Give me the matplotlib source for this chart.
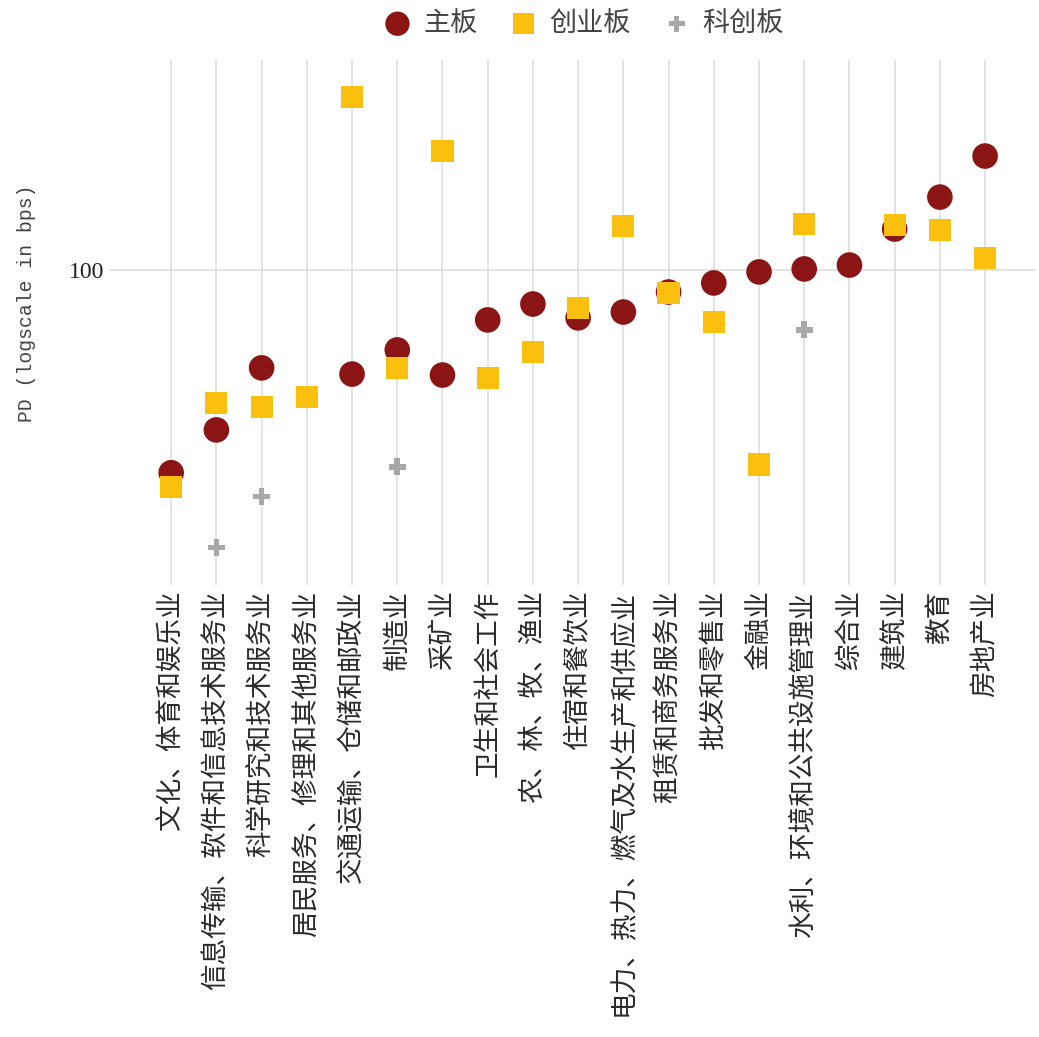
import numpy as np
import matplotlib.pyplot as plt

plt.rcParams['font.family'] = ['Noto Sans CJK SC', 'DejaVu Sans']

# 行业
industries = ['文化、体育和娱乐业', '信息传输、软件和信息技术服务业', '科学研究和技术服务业',
              '居民服务、修理和其他服务业', '交通运输、仓储和邮政业', '制造业', '采矿业',
              '卫生和社会工作', '农、林、牧、渔业', '住宿和餐饮业',
              '电力、热力、燃气及水生产和供应业', '租赁和商务服务业', '批发和零售业', '金融业',
              '水利、环境和公共设施管理业', '综合业', '建筑业', '教育', '房地产业']

# PD (bps), nan = 无数据
zhuban = [31.1, 39.8, 56.9, np.nan, 54.9, 63.1, 54.6, 75.0, 82.2, 75.9,
          78.5, 88.1, 92.8, 98.9, 100.6, 102.9, 126.6, 152.2, 192.8]
chuangye = [28.7, 46.5, 45.4, 48.1, 270.7, 56.9, 198.4, 53.7, 62.4, 80.4,
            128.8, 87.6, 74.1, 32.6, 130.3, np.nan, 129.6, 125.9, 107.2]
kechuang = [np.nan, 20.2, 27.1, np.nan, np.nan, 32.2, np.nan, np.nan, np.nan, np.nan,
            np.nan, np.nan, np.nan, np.nan, 70.8, np.nan, np.nan, np.nan, np.nan]

x = np.arange(len(industries))

fig = plt.figure(figsize=(10.39, 10.37), dpi=100)
ax = fig.add_axes([0.106, 0.436, 0.89, 0.506])

ax.scatter(x, zhuban, s=340, marker='o', color='#8b1414', edgecolors='none', label='主板', zorder=3)
ax.scatter(x, chuangye, s=255, marker='s', color='#fbc00e', edgecolors='none', label='创业板', zorder=4)
ax.scatter(x, kechuang, s=150, marker='P', color='#a8a8a8', edgecolors='none', label='科创板', zorder=5)

ax.set_yscale('log')
ax.set_ylim(16.3, 335)
ax.set_xlim(-1.35, 18.1 + 1)
ax.set_yticks([100])
ax.set_yticklabels(['100'], fontfamily='Liberation Serif', fontsize=17, color='#222222')
ax.yaxis.set_minor_locator(plt.NullLocator())
ax.set_xticks(x)
ax.set_xticklabels(industries, rotation=90, fontsize=19.2, color='#2a2a2a', va='top', ha='center')

ax.grid(True, color='#dedede', linewidth=1.2)
ax.set_axisbelow(True)
ax.tick_params(length=0, pad=4)
for s in ax.spines.values():
    s.set_visible(False)

ax.set_ylabel('PD (logscale in bps)', fontfamily=['Liberation Mono', 'Noto Sans CJK SC'],
              fontsize=14.2, color='#444444')
ax.yaxis.set_label_coords(-0.08, 0.537)

fig.legend(loc='upper center', bbox_to_anchor=(0.558, 1.014), ncol=3, frameon=False,
           fontsize=19.5, labelcolor='#444444', handletextpad=0.15, columnspacing=0.9,
           handlelength=1.6, markerscale=0.95)

plt.savefig('out.png')
